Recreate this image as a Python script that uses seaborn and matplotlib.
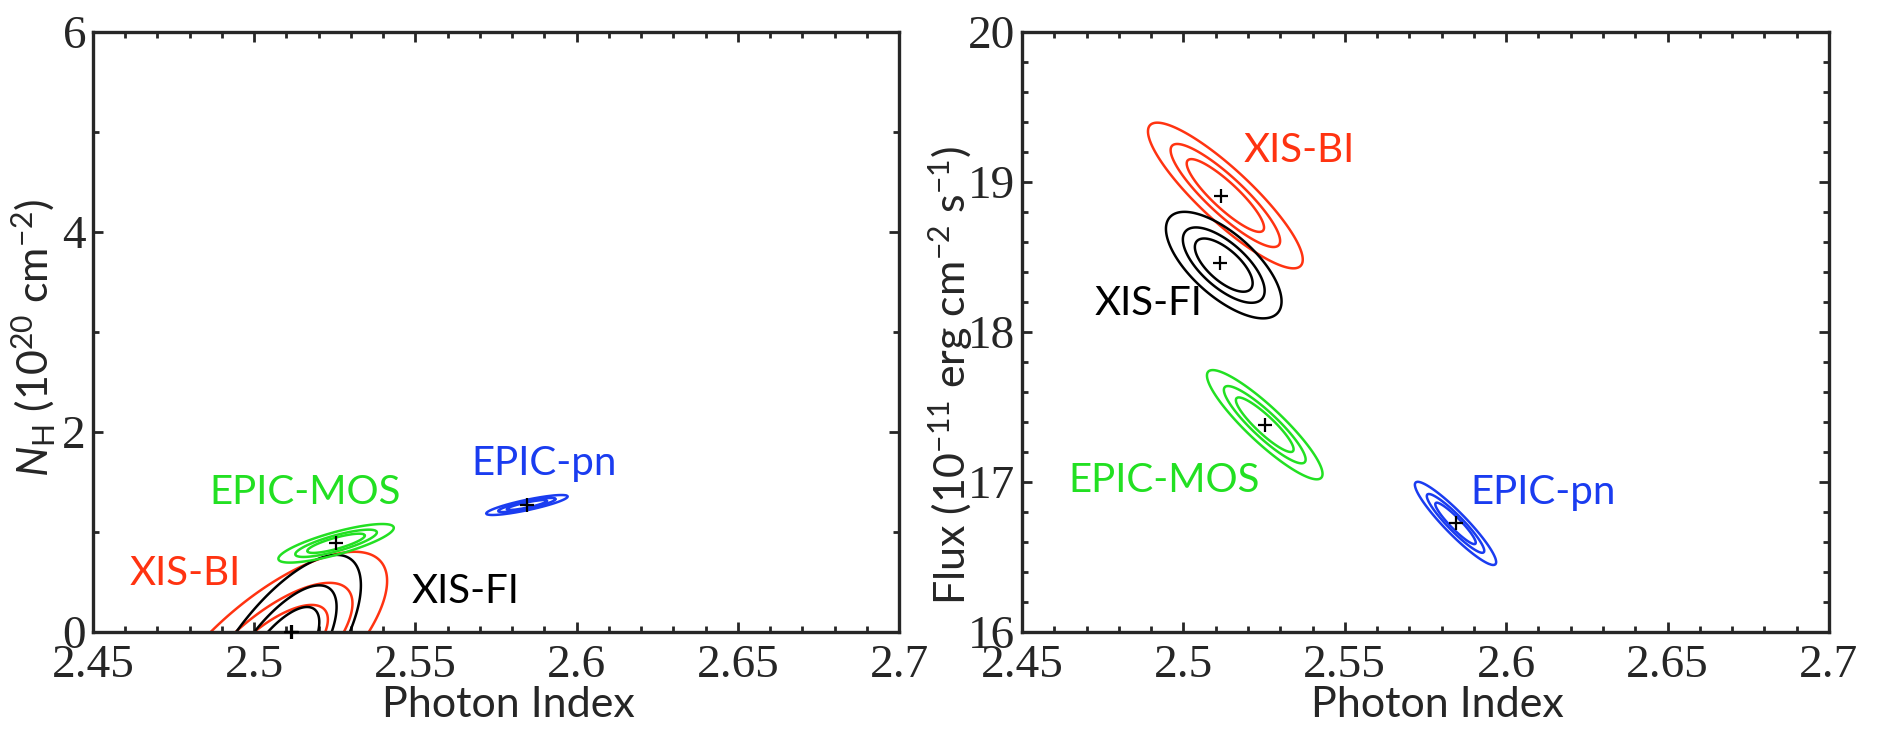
import numpy as np
import pandas as pd
import matplotlib
matplotlib.use("Agg")
import matplotlib.pyplot as plt
import seaborn as sns
from matplotlib.ticker import MultipleLocator, FuncFormatter

# instruments, colours
instruments = ["XIS-BI", "XIS-FI", "EPIC-MOS", "EPIC-pn"]
colors = ["#ff3311", "#000000", "#22e022", "#1a3cf0"]

# confidence levels (delta chi^2 for 68%, 90%, 99%)
levels = [2.30, 4.61, 9.21]

# --- left panel: photon index vs N_H ---
nh_best_gamma = [2.5116, 2.5113, 2.5254, 2.5845]
nh_best_value = [0.0, 0.0, 0.887, 1.27]
nh_cen_gamma = [2.5045, 2.5073, 2.5254, 2.5846]
nh_cen_value = [-0.26, -0.27, 0.887, 1.27]
nh_sig_gamma = [0.0121, 0.0085, 0.0059, 0.00417]
nh_sig_value = [0.35, 0.343, 0.0636, 0.033]
nh_rho = [0.725, 0.707, 0.80, 0.85]

# --- right panel: photon index vs flux ---
fx_best_gamma = [2.5116, 2.5113, 2.5252, 2.5843]
fx_best_value = [18.91, 18.462, 17.38, 16.724]
fx_cen_gamma = [2.513, 2.5125, 2.5252, 2.5843]
fx_cen_value = [18.91, 18.446, 17.382, 16.724]
fx_sig_gamma = [0.0079, 0.0059, 0.0059, 0.00415]
fx_sig_value = [0.16, 0.117, 0.120, 0.0914]
fx_rho = [-0.88, -0.68, -0.90, -0.93]

sns.set_style("ticks")
plt.rcParams["font.family"] = ["Lato", "DejaVu Sans"]
plt.rcParams["mathtext.fontset"] = "custom"
plt.rcParams["mathtext.rm"] = "Lato"
plt.rcParams["mathtext.it"] = "Lato:italic"
plt.rcParams["mathtext.bf"] = "Lato:bold"


def chi2_surface(gx, gy, cx, cy, sx, sy, r):
    u = (gx - cx) / sx
    v = (gy - cy) / sy
    return (u * u - 2 * r * u * v + v * v) / (1 - r * r)


def draw_panel(ax, cen_g, cen_v, sig_g, sig_v, rho, best_g, best_v, ylo, yhi):
    gg, vv = np.meshgrid(np.linspace(2.40, 2.75, 900), np.linspace(ylo, yhi, 900))
    for i in range(len(instruments)):
        z = chi2_surface(gg, vv, cen_g[i], cen_v[i], sig_g[i], sig_v[i], rho[i])
        ax.contour(gg, vv, z, levels=levels, colors=colors[i], linewidths=1.8)
    best = pd.DataFrame({"gamma": best_g, "value": best_v})
    sns.scatterplot(data=best, x="gamma", y="value", marker="+", s=110,
                    color="black", linewidth=1.6, ax=ax, zorder=5, clip_on=False)


def style_axes(ax, ymaj, ymin):
    ax.set_xlim(2.45, 2.7)
    ax.xaxis.set_major_locator(MultipleLocator(0.05))
    ax.xaxis.set_minor_locator(MultipleLocator(0.01))
    ax.yaxis.set_major_locator(MultipleLocator(ymaj))
    ax.yaxis.set_minor_locator(MultipleLocator(ymin))
    ax.xaxis.set_major_formatter(FuncFormatter(lambda v, p: f"{v:g}"))
    ax.yaxis.set_major_formatter(FuncFormatter(lambda v, p: f"{v:g}"))
    ax.tick_params(which="both", direction="in", top=True, right=True, width=2,
                   labelsize=34, labelfontfamily="Liberation Serif")
    ax.tick_params(which="major", length=7)
    ax.tick_params(which="minor", length=4)
    ax.tick_params(axis="x", pad=9)
    ax.tick_params(axis="y", pad=5)
    for sp in ax.spines.values():
        sp.set_linewidth(2.4)
    ax.set_xlabel("Photon Index", fontsize=31)
    ax.xaxis.set_label_coords(0.515, -0.09)


fig = plt.figure(figsize=(18.9, 7.33), dpi=100)
ax1 = fig.add_axes([93 / 1890, 101 / 733, 806 / 1890, 600 / 733])
ax2 = fig.add_axes([1022 / 1890, 101 / 733, 807 / 1890, 600 / 733])

draw_panel(ax1, nh_cen_gamma, nh_cen_value, nh_sig_gamma, nh_sig_value, nh_rho,
           nh_best_gamma, nh_best_value, -2.0, 6.5)
ax1.set_ylim(0, 6)
style_axes(ax1, 2, 1)
ax1.set_ylabel(r"$N_{\mathrm{H}}$ (10$^{20}$ cm$^{-2}$)", fontsize=31)
ax1.yaxis.set_label_coords(-0.045, 0.49)

draw_panel(ax2, fx_cen_gamma, fx_cen_value, fx_sig_gamma, fx_sig_value, fx_rho,
           fx_best_gamma, fx_best_value, 15.5, 20.5)
ax2.set_ylim(16, 20)
style_axes(ax2, 1, 0.2)
ax2.set_ylabel(r"Flux (10$^{-11}$ erg cm$^{-2}$ s$^{-1}$)", fontsize=31)
ax2.yaxis.set_label_coords(-0.058, 0.427)

# instrument labels
left_pos = [(2.4615, 0.47), (2.5488, 0.287), (2.4861, 1.28), (2.5675, 1.57)]
right_pos = [(2.5186, 19.135), (2.4725, 18.113), (2.4643, 16.935), (2.5888, 16.853)]
for i, name in enumerate(instruments):
    ax1.text(*left_pos[i], name, color=colors[i], fontsize=29, va="baseline")
    ax2.text(*right_pos[i], name, color=colors[i], fontsize=29, va="baseline")

fig.savefig("out.png", dpi=100)
